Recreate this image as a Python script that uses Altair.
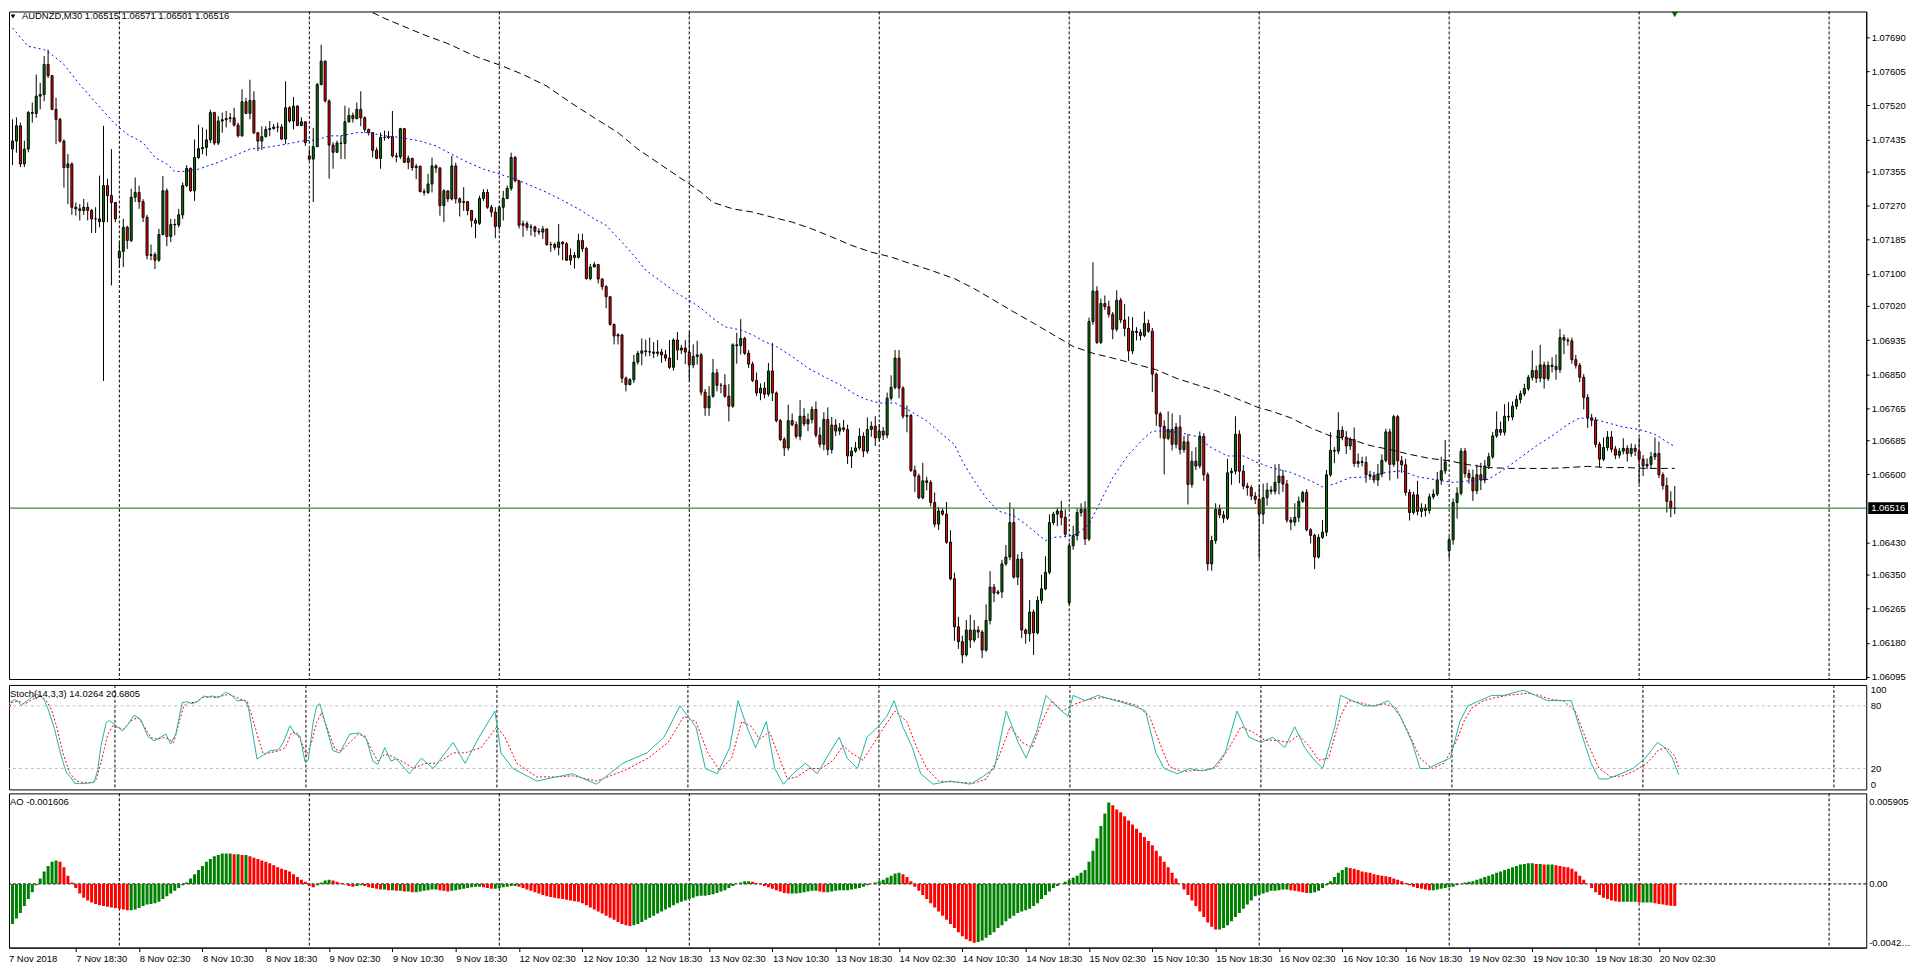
import altair as alt
import pandas as pd

# ---------------- data ----------------
x_labels = ["7 Nov 2018", "7 Nov 18:30", "8 Nov 02:30", "8 Nov 10:30", "8 Nov 18:30",
            "9 Nov 02:30", "9 Nov 10:30", "9 Nov 18:30", "12 Nov 02:30", "12 Nov 10:30",
            "12 Nov 18:30", "13 Nov 02:30", "13 Nov 10:30", "13 Nov 18:30", "14 Nov 02:30",
            "14 Nov 10:30", "14 Nov 18:30", "15 Nov 02:30", "15 Nov 10:30", "15 Nov 18:30",
            "16 Nov 02:30", "16 Nov 10:30", "16 Nov 18:30", "19 Nov 02:30", "19 Nov 10:30",
            "19 Nov 18:30", "20 Nov 02:30"]
x_label_bars = [0, 16, 32, 48, 64, 80, 96, 112, 128, 144, 160, 176, 192, 208, 224, 240, 256,
                272, 288, 304, 320, 336, 352, 368, 384, 400, 416]
grid_bars = [27, 75, 123, 171, 219, 267, 315, 363, 411, 459]
price_ticks = [1.07690, 1.07605, 1.07520, 1.07435, 1.07355, 1.07270, 1.07185, 1.07100, 1.07020,
               1.06935, 1.06850, 1.06765, 1.06685, 1.06600, 1.06430, 1.06350, 1.06265, 1.06180,
               1.06095]
last_price = 1.06516
header_text = "AUDNZD,M30  1.06515 1.06571 1.06501 1.06516"
stoch_text = "Stoch(14,3,3) 14.0264 20.6805"
ao_text = "AO -0.001606"
stoch_levels = [20, 80]
ao_label_vals = [0.005905, 0.0, -0.004256]
ao_label_txt = ["0.005905", "0.00", "-0.004256"]

# closes of the M30 bars, in 1e-5 price units (points)
close_pts = [
    107431, 107469, 107374, 107411, 107502, 107500, 107543, 107547, 107622, 107594,
    107510, 107485, 107431, 107365, 107374, 107266, 107262, 107258, 107266, 107258,
    107237, 107237, 107230, 107320, 107295, 107278, 107237, 107156, 107216, 107183,
    107291, 107303, 107280, 107241, 107146, 107148, 107134, 107198, 107307, 107193,
    107223, 107222, 107247, 107320, 107363, 107307, 107390, 107412, 107415, 107434,
    107502, 107426, 107481, 107484, 107487, 107489, 107471, 107444, 107529, 107500,
    107532, 107452, 107431, 107442, 107460, 107462, 107466, 107466, 107436, 107514,
    107481, 107518, 107470, 107479, 107427, 107386, 107417, 107572, 107630, 107531,
    107421, 107403, 107426, 107425, 107479, 107495, 107487, 107510, 107489, 107460,
    107452, 107408, 107388, 107440, 107440, 107442, 107394, 107392, 107462, 107378,
    107388, 107365, 107368, 107305, 107303, 107324, 107369, 107364, 107270, 107307,
    107287, 107369, 107287, 107278, 107280, 107258, 107233, 107226, 107288, 107303,
    107266, 107254, 107218, 107266, 107288, 107313, 107390, 107332, 107221, 107225,
    107216, 107217, 107206, 107204, 107212, 107173, 107173, 107166, 107179, 107175,
    107134, 107146, 107141, 107183, 107163, 107088, 107117, 107123, 107087, 107068,
    107043, 106974, 106945, 106948, 106840, 106824, 106836, 106880, 106902,
    106908, 106906, 106905, 106902, 106905, 106898, 106890, 106867, 106935, 106910, 106915,
    106905, 106873, 106894, 106898, 106805, 106766, 106795, 106853, 106822, 106822,
    106795, 106770, 106923, 106921, 106939, 106902, 106875, 106834, 106803, 106815,
    106800, 106858, 106803, 106734, 106687, 106666, 106734, 106724, 106695, 106745,
    106726, 106737, 106762, 106698, 106675, 106737, 106662, 106723, 106708, 106716,
    106712, 106646, 106658, 106666, 106695, 106658, 106712, 106720, 106691, 106708,
    106698, 106790, 106817, 106890, 106815, 106745, 106747, 106610, 106596, 106542,
    106584, 106580, 106530, 106476, 106509, 106501, 106431, 106340, 106220, 106183,
    106150, 106212, 106187, 106212, 106207, 106162, 106236, 106319, 106304, 106307,
    106377, 106394, 106480, 106344, 106389, 106212, 106203, 106257, 106205, 106286,
    106315, 106356, 106480, 106501, 106509, 106493, 106451, 106422, 106447, 106505,
    106513, 106439, 106981, 107057, 106929, 107026, 107018, 106999, 106962, 107034,
    106985, 106964, 106908, 106957, 106954, 106946, 106976, 106957, 106850, 106751,
    106720, 106690, 106712, 106675, 106718, 106662, 106681, 106575, 106633, 106621,
    106695, 106599, 106377, 106435, 106513, 106499, 106491, 106604, 106608, 106700,
    106608, 106571, 106567, 106546, 106538, 106501, 106542, 106561, 106558, 106580,
    106596, 106576, 106486, 106481, 106493, 106533, 106555, 106462, 106448, 106394,
    106443, 106456, 106599, 106660, 106658, 106710, 106693, 106671, 106687, 106627,
    106632, 106630, 106599, 106596, 106586, 106601, 106635, 106706, 106625, 106744,
    106634, 106624, 106555, 106505, 106549, 106508, 106516, 106510, 106544, 106551,
    106586, 106609, 106631, 106437, 106530, 106553, 106658, 106602, 106592, 106559,
    106599, 106586, 106621, 106644, 106696, 106712, 106705, 106745, 106743, 106770,
    106787, 106801, 106814, 106842, 106859, 106840, 106873, 106839, 106872, 106869,
    106861, 106941, 106935, 106933, 106886, 106872, 106842, 106792, 106741, 106735,
    106675, 106638, 106667, 106693, 106663, 106648, 106658, 106665, 106652, 106665,
    106658, 106638, 106621, 106625, 106644, 106652, 106599, 106572, 106533, 106515, 106516,
]
# upper / lower shadow lengths of each bar (points)
wick_up_pts = [
    54, 21, 8, 21, 4, 25, 54, 29, 21, 37, 2, 29, 4, 4, 25, 4, 12, 12, 21, 12,
    4, 29, 108, 149, 17, 116, 0, 23, 21, 4, 21, 37, 17, 6, 6, 25, 6, 14, 37, 6,
    14, 14, 15, 8, 8, 2, 45, 60, 50, 26, 7, 2, 12, 18, 19, 12, 25, 6, 31, 10,
    52, 23, 0, 26, 8, 19, 7, 11, 7, 66, 4, 23, 2, 11, 0, 17, 47, 4, 41, 2,
    4, 7, 6, 19, 40, 19, 7, 17, 45, 4, 2, 0, 7, 12, 17, 14, 64, 8, 2, 0,
    7, 0, 6, 2, 7, 25, 21, 4, 2, 4, 0, 25, 8, 4, 36, 0, 0, 6, 7, 8,
    8, 6, 12, 4, 19, 7, 12, 4, 0, 8, 6, 7, 3, 8, 7, 0, 7, 5, 45, 2,
    4, 17, 8, 17, 17, 4, 8, 7, 2, 2, 4, 0, 2, 4, 0, 4, 4, 18, 6,
    31, 28, 35, 25, 30, 8, 12, 45, 4, 20, 8,
    20, 50, 30, 35, 5, 8, 25, 35, 10, 6, 28, 30, 4, 30, 48, 4, 8, 6, 20, 12,
    15, 20, 70, 4, 4, 6, 40, 18, 8, 40, 20, 15, 8, 20, 20, 18, 30, 20, 15, 12,
    20, 12, 10, 15, 20, 10, 30, 12, 25, 18, 10, 14, 30, 20, 20, 5, 25, 4, 12, 6,
    45, 10, 6, 25, 10, 6, 30, 30, 15, 25, 15, 25, 38, 25, 10, 5, 40, 40, 8, 5,
    10, 30, 50, 35, 12, 18, 4, 30, 6, 10, 35, 40, 20, 6, 8, 25, 20, 8, 25, 10,
    15, 20, 10, 72, 12, 12, 20, 15, 6, 25, 6, 40, 30, 35, 10, 8, 30, 10, 8, 4,
    5, 15, 45, 40, 10, 30, 15, 20, 25, 35, 12, 8, 6, 12, 15, 12, 10, 35, 8, 45,
    10, 15, 8, 6, 10, 35, 35, 18, 10, 45, 30, 15, 10, 8, 35, 12, 4, 8, 4, 4,
    8, 30, 12, 45, 8, 45, 10, 15, 6, 30, 20, 12, 15, 10, 10, 25, 15, 8, 8, 5,
    4, 12, 15, 8, 8, 35, 12, 10, 8, 12, 20, 35, 55, 8, 10, 15, 8, 8, 10, 20,
    25, 30, 15, 10, 10, 45, 20, 30, 35, 12, 10, 8, 12, 6, 50, 12, 50, 8, 10, 20,
    30, 22, 8, 6, 8, 12, 6, 8, 8, 10, 8, 6, 25, 15, 15, 8, 8, 25, 8, 12,
    10, 34, 10, 15, 12, 40, 30, 6, 20, 25, 55,
]
wick_dn_pts = [
    40, 29, 8, 8, 8, 23, 11, 33, 17, 6, 2, 62, 4, 50, 91, 19, 17, 25, 11, 25,
    35, 35, 14, 397, 66, 207, 8, 25, 39, 21, 4, 12, 18, 12, 10, 12, 22, 4, 2, 24,
    14, 26, 6, 10, 4, 2, 25, 4, 14, 21, 8, 5, 5, 29, 19, 10, 4, 4, 2, 2,
    15, 4, 25, 22, 2, 17, 2, 13, 2, 12, 4, 21, 2, 2, 8, 4, 107, 0, 2, 4,
    84, 41, 0, 39, 39, 2, 10, 2, 21, 8, 7, 18, 2, 26, 8, 4, 4, 14, 6, 2,
    17, 8, 29, 2, 8, 4, 21, 12, 25, 41, 8, 4, 12, 35, 21, 12, 17, 37, 4, 6,
    4, 12, 29, 8, 33, 2, 6, 4, 8, 29, 8, 21, 14, 7, 17, 3, 18, 7, 20, 41,
    2, 12, 28, 3, 8, 2, 4, 0, 11, 8, 29, 3, 21, 21, 12, 17, 2, 8, 6,
    30, 12, 10, 12, 8, 20, 8, 4, 8, 25, 10,
    30, 40, 8, 20, 8, 20, 20, 4, 15, 20, 4, 38, 4, 45, 22, 4, 10, 4, 8, 18,
    10, 6, 20, 4, 4, 20, 6, 4, 6, 10, 6, 18, 10, 6, 8, 15, 14, 10, 12, 10,
    6, 20, 30, 4, 6, 15, 6, 18, 20, 8, 12, 8, 6, 5, 25, 6, 40, 4, 40, 4,
    4, 20, 10, 8, 15, 4, 4, 4, 35, 18, 21, 4, 20, 6, 15, 20, 4, 10, 22, 4,
    15, 5, 8, 4, 20, 20, 25, 20, 55, 4, 8, 4, 5, 6, 30, 20, 8, 5, 10, 12,
    10, 15, 5, 8, 4, 4, 8, 8, 25, 6, 8, 20, 25, 8, 20, 12, 4, 4, 45, 30,
    30, 90, 5, 15, 10, 12, 8, 50, 8, 10, 6, 15, 17, 17, 8, 8, 12, 5, 30, 8,
    30, 8, 20, 10, 12, 111, 25, 20, 8, 8, 30, 20, 6, 20, 10, 12, 4, 4, 20, 30,
    4, 4, 10, 5, 30, 8, 8, 20, 10, 8, 10, 10, 20, 10, 8, 15, 8, 5, 40, 6,
    45, 20, 8, 20, 5, 10, 15, 15, 8, 6, 5, 12, 8, 20, 12, 40, 5, 10, 15, 25,
    8, 25, 8, 8, 5, 5, 8, 8, 10, 8, 8, 10, 6, 6, 8, 12, 10, 25, 6, 15,
    25, 8, 35, 12, 10, 8, 12, 30, 25, 15, 8, 20, 5, 8, 8, 10, 8, 8, 20, 8,
    12, 62, 25, 8, 10, 8, 8, 10, 28, 22, 14,
]
first_open_pts = 107411
gap_open_pts = {27: 107140, 75: 107394, 267: 106280, 363: 106410}

# moving averages (bar, points)
ma_fast_bar = [0, 4, 8, 10, 13, 17, 21, 26, 29, 33, 36, 39, 41, 43, 47, 52, 56, 60, 64, 69, 73, 77,
               80, 83, 87, 90, 94, 98, 103, 107, 111, 115, 119, 123, 127, 131, 135, 139, 143, 147,
               150, 154, 158, 160, 164, 168, 171, 174, 177, 180, 184, 187, 190, 193, 197, 201,
               205, 209, 213, 216, 219, 223, 227, 231, 235, 238, 240, 243, 246, 249, 253, 256,
               259, 261, 263, 266, 269, 272, 275, 278, 282, 286, 288, 291, 295, 299, 303, 307,
               311, 314, 318, 323, 328, 331, 334, 338, 343, 347, 351, 355, 360, 364, 368, 373,
               377, 381, 385, 389, 393, 396, 400, 404, 407, 411, 415, 419, 420]
ma_fast_pts = [107713, 107667, 107659, 107646, 107622, 107572, 107527, 107473, 107448, 107427,
               107390, 107374, 107355, 107355, 107361, 107378, 107394, 107411, 107415, 107423,
               107431, 107434, 107444, 107444, 107452, 107452, 107444, 107440, 107431, 107419,
               107398, 107378, 107361, 107349, 107336, 107320, 107303, 107283, 107262, 107237,
               107221, 107179, 107134, 107109, 107080, 107051, 107034, 107014, 106989, 106968,
               106960, 106948, 106931, 106919, 106894, 106865, 106844, 106824, 106799, 106786,
               106778, 106778, 106757, 106733, 106699, 106675, 106633, 106584, 106542, 106509,
               106497, 106476, 106451, 106435, 106443, 106445, 106451, 106476, 106534, 106592,
               106650, 106691, 106708, 106708, 106704, 106695, 106666, 106646, 106646, 106632,
               106617, 106605, 106584, 106569, 106576, 106592, 106594, 106605, 106609, 106594,
               106586, 106580, 106584, 106588, 106613, 106642, 106671, 106696, 106725, 106741,
               106737, 106726, 106718, 106712, 106700, 106675, 106670]
ma_slow_bar = [86, 90, 94, 100, 105, 110, 117, 123, 129, 135, 141, 147, 153, 158, 171, 174, 177,
               182, 187, 192, 197, 202, 207, 212, 217, 222, 227, 232, 238, 243, 248, 253, 258,
               263, 268, 273, 278, 283, 289, 294, 299, 304, 309, 315, 318, 323, 328, 333, 338,
               343, 348, 353, 358, 363, 368, 373, 378, 383, 388, 393, 398, 403, 408, 413, 418,
               420]
ma_slow_pts = [107775, 107756, 107737, 107712, 107692, 107674, 107642, 107621, 107597, 107568,
               107527, 107489, 107452, 107411, 107324, 107303, 107278, 107262, 107254, 107241,
               107229, 107212, 107192, 107171, 107154, 107142, 107125, 107109, 107088, 107063,
               107034, 107005, 106977, 106948, 106919, 106902, 106890, 106877, 106861, 106840,
               106824, 106809, 106790, 106766, 106758, 106741, 106716, 106696, 106688, 106672,
               106662, 106650, 106640, 106634, 106624, 106617, 106615, 106615, 106615, 106617,
               106620, 106617, 106617, 106615, 106615, 106615]

# Stochastic (14,3,3): vertices of %K and %D lines (bar, value)
stoch_k_bar = [0, 0.2, 1.8, 2.7, 3.5, 4.3, 6, 7.3, 8.1, 9.2, 10.2, 11.8, 13.5, 14.8, 16, 16.8, 18.1,
               20.2, 21.8, 22.7, 23.5, 24.8, 25.6, 27.3, 28.9, 30.2, 31.8, 33.5, 35.2, 36.8, 38.5,
               39.8, 41, 42.3, 43.9, 45.2, 46.4, 48.1, 49.3, 50.2, 51.4, 53.1, 54.8, 56, 57.7,
               59.8, 60.6, 62.7, 64.3, 66, 68.1, 69.3, 71, 72.3, 73.5, 74.8, 75.6, 76.8, 77.7,
               78.5, 79.8, 81.8, 83.5, 86, 88.5, 90.2, 91.8, 93.1, 94.8, 96.4, 97.7, 101, 104,
               107, 112, 115, 118.5, 122.5, 124, 127, 133, 138, 142, 148, 154.6, 160.7, 165, 169,
               173, 175.4, 178.4, 181.5, 183.6, 185.8, 188, 190.7, 192.8, 195, 197.4, 200.5,
               203.5, 206.6, 209, 211, 213.6, 216, 218.8, 221, 222.8, 225, 227.4, 229.5, 232.6,
               237, 242, 245, 248, 251, 254, 256, 258.6, 261, 263.5, 266.5, 267.8, 270.8, 274,
               278.5, 283, 286, 288.6, 290.7, 294, 297, 300, 303, 306, 309, 312, 315, 318, 321,
               323.5, 326, 328, 330.5, 333.6, 335, 338, 341, 344, 347, 350, 353, 355, 357, 359.6,
               362.6, 365, 367, 370, 373, 376, 381, 384, 387, 390, 393, 395, 398, 400, 402,
               405.5, 408.5, 411.6, 414.7, 416.5, 418.4, 420]
stoch_k_val = [70, 82, 86, 84, 80, 83, 88, 91, 90, 86, 77, 58, 32, 16, 11, 6, 5.5, 6, 7, 19, 42,
               64, 66, 61, 56, 62, 71, 67, 51, 46.5, 50, 53, 43.5, 53, 83, 84, 82, 85, 89.5, 88,
               89.5, 88, 93, 91, 85, 85, 77, 29, 33, 37, 38, 45, 61, 53, 51, 26, 28, 64, 80, 82,
               64, 37, 35, 53, 54, 48, 27, 24, 40, 27, 29.5, 15, 30, 20, 45, 25, 50, 75, 35, 20,
               8, 12, 15, 5, 25, 35, 50, 80, 60, 20, 15, 40, 85, 60, 40, 65, 20, 5, 15, 25, 15,
               35, 50, 30, 20, 50, 60, 70, 85, 60, 40, 15, 5, 8, 5, 12, 20, 75, 45, 30, 55, 90,
               80, 70, 90, 85, 90, 85, 80, 75, 35, 20, 15, 20, 18, 20, 35, 75, 50, 45, 50, 40,
               60, 40, 30, 20, 60, 90, 85, 80, 80, 85, 70, 45, 20, 20, 25, 30, 65, 80, 85, 90,
               90, 95, 90, 85, 85, 85, 60, 25, 10, 10, 15, 20, 30, 45, 40, 30, 14.03]
stoch_d_bar = [0, 1, 2.7, 4.3, 6.4, 8.5, 9.8, 11, 12.3, 13.9, 15.6, 17.3, 19.3, 21.4, 22.3, 23.5,
               25.2, 26.4, 27.7, 29.3, 31, 32.7, 34.3, 36, 37.7, 39.3, 40.6, 41.8, 43.1, 44.3,
               45.6, 47.3, 48.9, 50.6, 52.3, 53.9, 55.6, 56.8, 58.5, 60.2, 61.4, 63.1, 64.3, 66,
               68.1, 69.8, 71.4, 72.7, 73.9, 75.2, 76.4, 77.7, 78.9, 80.6, 82.3, 83.9, 86, 88.1,
               89.8, 91.4, 93.1, 94.8, 96.4, 98.1, 100, 102, 105, 108, 112, 115, 119, 123, 125,
               128, 133, 138, 142, 148, 155, 161, 166, 170, 173, 176, 179, 182, 184.5, 187, 189,
               191.5, 194, 196, 198.5, 201.5, 204.5, 207.5, 210, 212, 215, 217, 220, 223, 226,
               228.5, 231, 234, 238, 243, 246, 249, 252, 255, 257.5, 260, 262.5, 265, 268.5,
               271.5, 275, 279.5, 284, 287, 290, 292, 295, 298, 301, 304, 307, 310, 313, 316,
               319, 322, 324.5, 327, 329.5, 332, 335, 337, 340, 343, 346, 349, 352, 355, 358,
               361, 364, 366, 368, 371, 374, 377, 382, 385, 388, 391, 394, 397, 400, 403, 406,
               409, 412, 415, 417, 419, 420]
stoch_d_val = [72, 83, 84.7, 81.6, 86.5, 89.5, 84.7, 76.8, 60.8, 35.3, 16, 8.1, 6.4, 6.4, 9.6,
               25.6, 52.8, 60.8, 59.2, 57.6, 65.6, 68.8, 60.8, 49.6, 48, 49.6, 48, 44.9, 64, 80,
               83.2, 83.2, 88, 88.9, 88, 89.5, 91.1, 89.5, 86.3, 84.7, 70.3, 48, 33.6, 35.2, 36.8,
               40, 54.4, 54.4, 44.9, 32, 44.9, 64, 73.6, 56, 38.4, 36.8, 44.9, 52.8, 51.2, 38.4,
               27.2, 33.6, 32, 28.8, 25, 20, 25, 25, 35, 35, 40, 60, 50, 25, 12, 12, 13, 8, 18,
               30, 45, 70, 65, 35, 18, 30, 65, 60, 48, 55, 30, 10, 12, 20, 20, 28, 42, 35, 28,
               40, 58, 75, 65, 40, 20, 8, 7, 6, 10, 30, 60, 45, 40, 65, 85, 75, 82, 86, 88, 85,
               80, 70, 40, 22, 17, 18, 18, 22, 40, 60, 55, 47, 47, 45, 52, 42, 28, 30, 70, 85,
               83, 80, 82, 78, 55, 30, 20, 25, 45, 65, 78, 85, 88, 90, 92, 90, 86, 85, 75, 45,
               20, 12, 13, 18, 25, 38, 40, 32, 20.68]

# Awesome Oscillator, one value per bar (1e-6 units)
ao_vals = [
    -2900, -2500, -2100, -1600, -1100, -600, -100, 400, 900, 1300,
    1600, 1700, 1600, 1200, 600, 100, -300, -700, -1000, -1200,
    -1350, -1450, -1550, -1600, -1650, -1700, -1750, -1800, -1850, -1900,
    -1900, -1850, -1750, -1600, -1500, -1450, -1400, -1300, -1100, -900,
    -700, -500, -300, -100, 100, 400, 700, 1000, 1300, 1600,
    1800, 2000, 2100, 2200, 2200, 2200, 2150, 2150, 2100, 2100,
    2000, 1900, 1800, 1700, 1600, 1500, 1350, 1200, 1100, 1000,
    900, 700, 500, 300, 150, -150, -250, -100, 100, 250,
    300, 250, 150, 50, -50, -150, -200, -150, -100, -150,
    -250, -300, -350, -400, -400, -450, -450, -500, -500, -550,
    -550, -600, -600, -550, -500, -450, -400, -400, -450, -500,
    -550, -500, -450, -400, -350, -300, -250, -200, -200, -250,
    -300, -350, -350, -300, -250, -200, -150, -150, -200, -300,
    -400, -500, -600, -700, -800, -900, -950, -1000, -1050, -1100,
    -1150, -1200, -1250, -1300, -1400, -1550, -1700, -1850, -2000, -2150,
    -2300, -2450, -2600, -2750, -2900, -3000, -3050, -3000, -2900, -2750,
    -2600, -2450, -2300, -2150, -2000, -1850, -1700, -1550, -1400, -1300,
    -1200, -1100, -1000, -900, -850, -850, -800, -750, -650, -550,
    -450, -300, -150, 0, 100, 200, 200, 150, 50, -50,
    -150, -250, -350, -450, -550, -650, -700, -700, -700, -650,
    -600, -550, -500, -500, -550, -600, -600, -550, -500, -450,
    -450, -450, -400, -350, -300, -200, -100, 0, 100, 200,
    300, 450, 600, 750, 800, 700, 500, 200, -200, -500,
    -800, -1100, -1400, -1700, -2000, -2300, -2600, -2900, -3200, -3500,
    -3800, -4000, -4150, -4256, -4200, -4100, -3900, -3700, -3500, -3200,
    -3000, -2700, -2500, -2300, -2100, -2000, -1900, -1800, -1600, -1400,
    -1100, -800, -550, -300, -150, 0, 150, 300, 450, 600,
    800, 1000, 1600, 2400, 3300, 4200, 5100, 5905, 5700, 5400,
    5200, 4900, 4600, 4300, 4000, 3700, 3400, 3100, 2800, 2400,
    2000, 1600, 1200, 800, 400, 0, -400, -800, -1200, -1600,
    -2000, -2400, -2800, -3100, -3300, -3300, -3200, -3000, -2700, -2400,
    -2100, -1800, -1500, -1200, -900, -800, -700, -600, -500, -500,
    -450, -400, -400, -450, -500, -550, -600, -650, -650, -600,
    -500, -300, -100, 200, 500, 800, 1000, 1200, 1150, 1100,
    1000, 900, 850, 800, 700, 650, 600, 550, 500, 400,
    300, 200, 50, -100, -200, -300, -350, -400, -450, -450,
    -400, -350, -300, -250, -200, -100, 0, 100, 150, 200,
    300, 400, 500, 600, 700, 800, 900, 1000, 1100, 1200,
    1300, 1400, 1450, 1500, 1500, 1450, 1450, 1400, 1400, 1400,
    1350, 1300, 1250, 1200, 1100, 900, 600, 300, 0, -300,
    -600, -800, -1000, -1100, -1200, -1250, -1300, -1300, -1300, -1300,
    -1300, -1350, -1350, -1350, -1350, -1400, -1450, -1500, -1550, -1580, -1606,
]

assert len(close_pts) == 421, len(close_pts)
assert len(wick_up_pts) == 421, len(wick_up_pts)
assert len(wick_dn_pts) == 421, len(wick_dn_pts)
assert len(ao_vals) == 421, len(ao_vals)
assert len(ma_fast_bar) == len(ma_fast_pts)
assert len(ma_slow_bar) == len(ma_slow_pts)
assert len(stoch_k_bar) == len(stoch_k_val), (len(stoch_k_bar), len(stoch_k_val))
assert len(stoch_d_bar) == len(stoch_d_val), (len(stoch_d_bar), len(stoch_d_val))

# ---------------- styling ----------------
FONT = "Liberation Sans"
FS = 9.5
GREEN = "#008000"
RED = "#FF0000"
W = 1867
H_PRICE, H_STOCH, H_AO = 671, 105, 155

# ---------------- tables ----------------
rows = []
for i, c in enumerate(close_pts):
    if i == 0:
        o = first_open_pts
    elif i in gap_open_pts:
        o = gap_open_pts[i]
    else:
        o = close_pts[i - 1]
    h = max(o, c) + wick_up_pts[i]
    l = min(o, c) - wick_dn_pts[i]
    col = GREEN if c > o else (RED if c < o else "#000000")
    rows.append({"i": i, "o": o / 1e5, "c": c / 1e5, "h": h / 1e5, "l": l / 1e5, "col": col})
df = pd.DataFrame(rows)

df_grid = pd.DataFrame({"i": grid_bars})
df_fast = pd.DataFrame({"b": ma_fast_bar, "v": [p / 1e5 for p in ma_fast_pts]})
df_slow = pd.DataFrame({"b": ma_slow_bar, "v": [p / 1e5 for p in ma_slow_pts]})
df_k = pd.DataFrame({"b": stoch_k_bar, "v": stoch_k_val})
df_d = pd.DataFrame({"b": stoch_d_bar, "v": stoch_d_val})
ao_rows = []
for i, v in enumerate(ao_vals):
    up = i == 0 or v >= ao_vals[i - 1]
    ao_rows.append({"i": i, "v": v / 1e6, "col": GREEN if up else RED})
df_ao = pd.DataFrame(ao_rows)
one = pd.DataFrame({"a": [0]})

xs = alt.Scale(domain=[0.375, 467.125], nice=False, zero=False)
ys = alt.Scale(domain=[1.06090, 1.07754], nice=False, zero=False)
ss = alt.Scale(domain=[0, 100], nice=False, zero=False)
aos = alt.Scale(domain=[-0.004612, 0.006558], nice=False, zero=False)

price_axis = alt.Axis(orient="right", values=price_ticks, format=".5f", title=None, grid=False,
                      ticks=True, tickSize=3, tickColor="black", domain=True, domainColor="black",
                      labelPadding=2, labelFont=FONT, labelFontSize=FS, labelColor="black")
stoch_axis = alt.Axis(orient="right", values=[0, 20, 80, 100], title=None, grid=False, ticks=False,
                      domain=False, labelPadding=4, labelFlush=True, labelFont=FONT,
                      labelFontSize=FS, labelColor="black")
label_js = "[" + ",".join("'" + s + "'" for s in x_labels) + "]"
x_axis = alt.Axis(values=x_label_bars[1:], labelExpr=label_js + "[round(datum.value/16)]",
                  labelAlign="left", labelPadding=2, labelOffset=0, tickSize=4, tickColor="black",
                  domainColor="black", labelColor="black", labelFont=FONT, labelFontSize=FS,
                  title=None, grid=False, labelOverlap=False, labelFlush=False, labelBound=False)

XN = alt.X("i:Q", scale=xs, axis=None)
XB = alt.X("b:Q", scale=xs, axis=None)
XA = alt.X("i:Q", scale=xs, axis=x_axis)


def vgrid(xenc):
    return alt.Chart(df_grid).mark_rule(color="black", strokeDash=[3, 2], strokeWidth=1).encode(x=xenc)


# ---------------- price panel ----------------
wicks = alt.Chart(df).mark_rule(color="black", strokeWidth=1, clip=True).encode(
    x=XN, y=alt.Y("l:Q", scale=ys, axis=price_axis), y2="h:Q")
bodies = alt.Chart(df).mark_bar(size=2, stroke="black", strokeWidth=1, clip=True).encode(
    x=XN, y=alt.Y("o:Q", scale=ys, axis=price_axis), y2="c:Q", fill=alt.Fill("col:N", scale=None))
ma_fast = alt.Chart(df_fast).mark_line(color="#0000FF", strokeDash=[2, 3], strokeWidth=1, clip=True).encode(
    x=XB, y=alt.Y("v:Q", scale=ys, axis=price_axis))
ma_slow = alt.Chart(df_slow).mark_line(color="#000000", strokeDash=[7, 4], strokeWidth=1, clip=True).encode(
    x=XB, y=alt.Y("v:Q", scale=ys, axis=price_axis))
last_line = alt.Chart(pd.DataFrame({"v": [last_price]})).mark_rule(color="#0B6B0B", strokeWidth=1).encode(
    y=alt.Y("v:Q", scale=ys, axis=price_axis))
box_half = 6 / (H_PRICE / (1.07754 - 1.06090))
last_box = alt.Chart(pd.DataFrame({"y1": [last_price + box_half], "y2": [last_price - box_half]})).mark_rect(
    color="black").encode(x=alt.value(W + 2), x2=alt.value(W + 42),
                           y=alt.Y("y1:Q", scale=ys, axis=price_axis), y2="y2:Q")
last_txt = alt.Chart(pd.DataFrame({"v": [last_price], "t": ["%.5f" % last_price]})).mark_text(
    align="left", baseline="middle", font=FONT, fontSize=FS, color="white").encode(
    x=alt.value(W + 5), y=alt.Y("v:Q", scale=ys, axis=price_axis), text="t:N")
hdr_tri = alt.Chart(one).mark_point(shape="triangle-down", filled=True, color="black", size=22,
                                    opacity=1).encode(x=alt.value(4), y=alt.value(5))
hdr = alt.Chart(one).mark_text(align="left", baseline="middle", font=FONT, fontSize=FS,
                               color="black", text=header_text).encode(x=alt.value(13), y=alt.value(5))
shift_mark = alt.Chart(pd.DataFrame({"i": [420]})).mark_point(
    shape="triangle-down", filled=True, color="#006400", size=40, opacity=1).encode(x=XN, y=alt.value(3))

price = alt.layer(vgrid(XN), wicks, bodies, ma_slow, ma_fast, last_line, last_box, last_txt,
                  hdr_tri, hdr, shift_mark).properties(width=W, height=H_PRICE)

# ---------------- stochastic panel ----------------
lvl = alt.Chart(pd.DataFrame({"v": stoch_levels})).mark_rule(
    color="#C0C0C0", strokeDash=[3, 3], strokeWidth=1).encode(y=alt.Y("v:Q", scale=ss, axis=stoch_axis))
k_line = alt.Chart(df_k).mark_line(color="#20B2AA", strokeWidth=1, clip=True).encode(
    x=XB, y=alt.Y("v:Q", scale=ss, axis=stoch_axis))
d_line = alt.Chart(df_d).mark_line(color="#FF0000", strokeDash=[2, 2], strokeWidth=1, clip=True).encode(
    x=XB, y=alt.Y("v:Q", scale=ss, axis=stoch_axis))
st_txt = alt.Chart(one).mark_text(align="left", baseline="middle", font=FONT, fontSize=FS,
                                  color="black", text=stoch_text).encode(x=alt.value(1), y=alt.value(9))
stoch = alt.layer(vgrid(XN), lvl, d_line, k_line, st_txt).properties(width=W, height=H_STOCH)

# ---------------- AO panel ----------------
zero_line = alt.Chart(pd.DataFrame({"v": [0.0]})).mark_rule(
    color="black", strokeDash=[3, 2], strokeWidth=1).encode(y=alt.Y("v:Q", scale=aos, axis=None))
ao_bars = alt.Chart(df_ao).mark_bar(size=3, clip=True).encode(
    x=XA, y=alt.Y("v:Q", scale=aos, axis=None), y2=alt.datum(0.0), color=alt.Color("col:N", scale=None))
ao_lbl = alt.Chart(pd.DataFrame({"v": ao_label_vals, "t": ao_label_txt})).mark_text(
    align="left", baseline="middle", font=FONT, fontSize=FS, color="black", limit=42, ellipsis="").encode(
    x=alt.value(W + 3), y=alt.Y("v:Q", scale=aos, axis=None), text="t:N")
ao_txt = alt.Chart(one).mark_text(align="left", baseline="middle", font=FONT, fontSize=FS,
                                  color="black", text=ao_text).encode(x=alt.value(1), y=alt.value(9))
first_lbl = alt.Chart(one).mark_text(align="left", baseline="top", font=FONT, fontSize=FS,
                                     color="black", text=x_labels[0]).encode(
    x=alt.value(0), y=alt.value(H_AO + 6))
ao = alt.layer(vgrid(XA), zero_line, ao_bars, ao_lbl, ao_txt, first_lbl).properties(width=W, height=H_AO)

chart = alt.vconcat(price, stoch, ao, spacing=2).properties(padding=0, background="white").configure_view(
    stroke="black", strokeWidth=1).configure_axis(labelFont=FONT)

chart.save("out.html", embed_options={"renderer": "svg", "actions": False})
